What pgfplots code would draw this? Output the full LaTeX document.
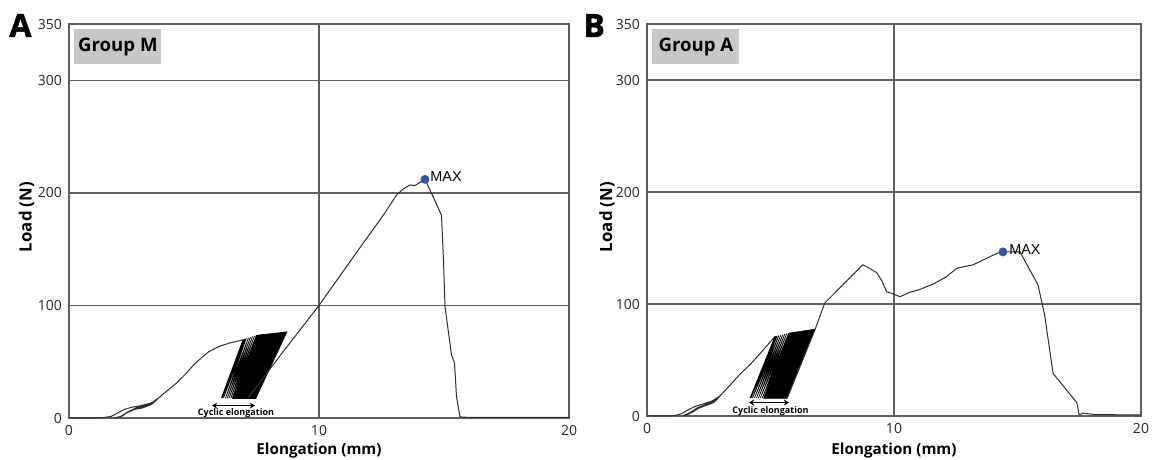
\documentclass[border=0pt]{standalone}
\usepackage{fontspec}
\setmainfont{Open Sans}
\newfontfamily\maxfont{Liberation Sans}
\newfontfamily\heavyfont{Open Sans}[FakeBold=1.6]
\usepackage{pgfplots}
\pgfplotsset{compat=1.18}
\usetikzlibrary{arrows.meta}
\definecolor{gridgray}{RGB}{95,95,95}
\definecolor{boxgray}{RGB}{200,200,200}
\definecolor{maxblue}{RGB}{52,82,168}
\definecolor{curve}{RGB}{45,45,45}

\pgfplotsset{
  panel/.style={
    scale only axis, anchor=south west,
    xmin=0, xmax=20, ymin=0, ymax=350,
    xtick={0,10,20}, ytick={0,100,200,300,350},
    grid=major, grid style={gridgray, line width=0.7pt},
    axis line style={gridgray, line width=0.8pt},
    major tick length=0pt,
    tick label style={font=\fontsize{7}{8}\selectfont, text=black!85},
    /pgf/number format/assume math mode=true,
    clip=false,
  },
}
\tikzset{
  grouplabel/.style={anchor=north west, fill=boxgray, minimum width=43.5pt,
    minimum height=17.5pt, inner sep=0pt, font=\bfseries\fontsize{9.3}{10}\selectfont},
  cyc/.style={black, line width=0.8pt, {Stealth[length=2.6pt,width=3pt]}-{Stealth[length=2.6pt,width=3pt]}},
}

\begin{document}
\begin{tikzpicture}
\path[use as bounding box] (0,0) rectangle (576.5pt,230pt);

% ---------- panel A : Group M ----------
\begin{axis}[panel, at={(34.5pt,21pt)}, width=250pt, height=197pt]
% preconditioning and first load
\addplot[curve, line width=0.5pt] coordinates {
 (0,0)(0.5,0)(1.0,0.1)(1.4,0.4)(1.7,1.5)(1.95,4.5)(2.2,7.5)(2.5,9.5)(2.9,11)(3.3,13.5)(3.6,18)
 (3.3,12)(2.95,9)(2.6,7.5)(2.3,4.5)(2.05,1.2)(1.8,0.1)
 (2.1,1.5)(2.35,5.5)(2.7,9)(3.1,11.5)(3.4,14)(3.65,19)
 (3.35,13)(3.0,10)(2.65,8.3)(2.35,5)(2.1,1.5)(1.9,0.2)
 (2.15,2)(2.4,6)(2.75,9.5)(3.15,12)(3.45,15)(3.7,20)
 (4.0,25.5)(4.3,31)(4.7,40)(5.0,47.5)(5.3,53.5)(5.6,59)(6.0,63.5)(6.4,66.5)(6.8,68.5)(6.96,69.5)
};
% first cycles, still apart
\addplot[black, line width=0.35pt] coordinates {
 (6.96,69.5)(6.10,18)(7.00,70)(6.13,17.8)(7.04,70.3)(6.18,17.7)(7.09,70.7)(6.26,17.6)(7.18,71.3)
 (6.33,17.5)(7.26,71.9)(6.40,17.5)(7.34,72.5)(6.47,17.5)(7.42,73)(6.53,17.5)(7.50,73.5)(6.56,17.4)
};
% dense band of cycles
\addplot[black, fill=black, line width=0.3pt] coordinates {
 (6.55,17.3)(7.47,17.3)(8.72,76.5)(7.5,73.5)
} -- cycle;
% final pull to failure
\addplot[curve, line width=0.5pt] coordinates {
 (7.15,17.5)(8.5,57)(10,100)(11.5,147)(12.6,181)(13.1,198)(13.4,204)(13.64,207)(13.84,206.5)(14.24,212)
 (14.64,193)(14.9,180)(14.98,140)(15.04,99)(15.3,56)(15.42,49)(15.5,19)(15.64,1)(16,0.5)(20,0.5)
};
\addplot[only marks, mark=*, mark size=2pt, maxblue] coordinates {(14.24,212)};
\node[anchor=base west, inner sep=0pt, xshift=2.5pt, font=\maxfont\fontsize{7.2}{8}\selectfont]
  at (axis cs:14.24,210) {MAX};
\addplot[cyc] coordinates {(5.72,11)(7.44,11)};
\node[font=\bfseries\fontsize{4.5}{5}\selectfont, inner sep=0pt] at (axis cs:6.68,4) {Cyclic elongation};
\node[grouplabel] at ([xshift=2.5pt,yshift=-2.5pt]rel axis cs:0,1) {Group M};
\end{axis}

% ---------- panel B : Group A ----------
\begin{axis}[panel, at={(323.5pt,22pt)}, width=247pt, height=196pt]
\addplot[curve, line width=0.5pt] coordinates {
 (0,0)(0.7,0)(1.1,0.3)(1.4,2)(1.7,6)(2.0,9)(2.3,11)(2.6,13)(2.9,17)
 (2.6,11)(2.3,9)(2.0,6.5)(1.7,2.5)(1.45,0.2)
 (1.75,3)(2.05,7.5)(2.35,10)(2.7,13)(2.95,18)
 (2.7,12)(2.4,9.5)(2.1,7)(1.8,3)(1.55,0.3)
 (1.85,3.5)(2.15,8)(2.45,11)(2.8,14)(3.0,19)
 (3.3,26)(3.77,37.5)(4.2,46.5)(4.57,55.5)(5.18,71)
};
\addplot[black, line width=0.35pt] coordinates {
 (5.18,71)(4.17,16)(5.22,71.3)(4.21,16)(5.27,71.6)(4.27,16)(5.34,72)(4.35,16)(5.42,72.4)
 (4.43,16)(5.50,72.8)(4.51,16)(5.58,73.2)(4.59,16)(5.66,73.6)(4.67,16)(5.74,74)(4.73,15.9)
};
\addplot[black, fill=black, line width=0.3pt] coordinates {
 (4.73,15.8)(5.67,15.8)(6.8,77.5)(5.75,74)
} -- cycle;
\addplot[curve, line width=0.5pt] coordinates {
 (5.67,15.8)(6.8,77)(7.2,101)(8.74,135)(9.0,132)(9.3,128)(9.5,121)(9.7,111)(9.96,109)(10.24,106.5)
 (10.65,110.5)(11.05,113)(11.6,118)(12.1,124)(12.55,132)(13.2,135)(13.77,141)(14.2,145.5)(14.41,146.5)
 (15.1,146.5)(15.83,117)(16.1,90)(16.44,38)(17.4,12)(17.5,1)(17.65,2.5)(18.2,1.2)(20,1)
};
\addplot[only marks, mark=*, mark size=2pt, maxblue] coordinates {(14.41,146.5)};
\node[anchor=base west, inner sep=0pt, xshift=3pt, font=\maxfont\fontsize{7.2}{8}\selectfont]
  at (axis cs:14.41,144.5) {MAX};
\addplot[cyc] coordinates {(4.13,12)(5.75,12)};
\node[font=\bfseries\fontsize{4.5}{5}\selectfont, inner sep=0pt] at (axis cs:5.0,4.7) {Cyclic elongation};
\node[grouplabel] at ([xshift=2.5pt,yshift=-2.5pt]rel axis cs:0,1) {Group A};
\end{axis}

% panel letters and axis titles
\node[anchor=base west, inner sep=0pt, font=\heavyfont\bfseries\fontsize{16}{18}\selectfont] at (4.5pt,211.5pt) {A};
\node[anchor=base west, inner sep=0pt, font=\heavyfont\bfseries\fontsize{16}{18}\selectfont] at (291.5pt,211.5pt) {B};
\node[rotate=90, inner sep=0pt, font=\bfseries\fontsize{8.4}{9}\selectfont] at (13.25pt,121.5pt) {Load (N)};
\node[rotate=90, inner sep=0pt, font=\bfseries\fontsize{8.4}{9}\selectfont] at (303.5pt,121.5pt) {Load (N)};
\node[anchor=base, inner sep=0pt, font=\bfseries\fontsize{7.6}{9}\selectfont] at (159.5pt,2.5pt) {Elongation (mm)};
\node[anchor=base, inner sep=0pt, font=\bfseries\fontsize{7.6}{9}\selectfont] at (447pt,2.5pt) {Elongation (mm)};
\end{tikzpicture}
\end{document}
